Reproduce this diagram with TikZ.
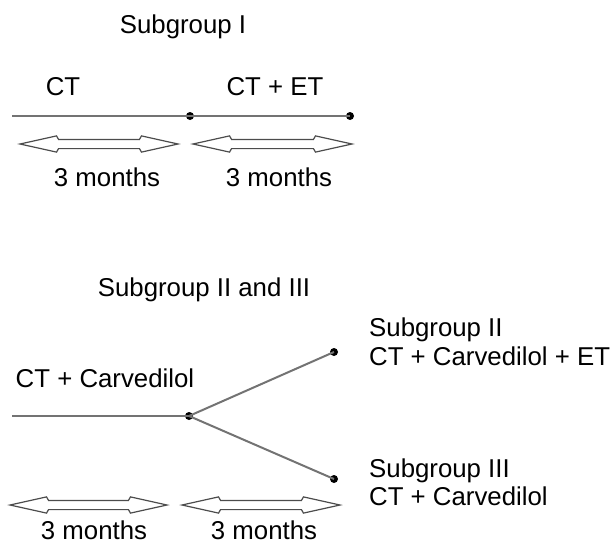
\documentclass[tikz,border=0pt]{standalone}
\usepackage{fontspec}
\setmainfont{Liberation Sans}
\usetikzlibrary{shapes.arrows}

\begin{document}
\begin{tikzpicture}[x=1pt,y=-1pt,
  txt/.style={anchor=base,inner sep=0pt,font=\fontsize{25.8pt}{30pt}\selectfont},
  timeline/.style={draw=black!55,line width=2.4pt},
  dot/.style={circle,fill=black,inner sep=0pt,minimum size=8pt},
  period/.style={double arrow,draw=black!70,fill=white,line width=1.2pt,
    inner sep=0pt,inner ysep=4pt,minimum width=15pt,
    double arrow head extend=3.5pt,double arrow tip angle=25,
    double arrow head indent=-2pt}]
\useasboundingbox (0,0) rectangle (613,546);
% subgroup I
\node[txt] (titleone) at (183,33) {Subgroup I};
\node[txt] (ct) at (63,95) {CT};
\node[txt] (ctet) at (275,95) {CT + ET};
\coordinate (onestart) at (12,116);
\node[dot] (onemid) at (190,116) {};
\node[dot] (oneend) at (350,116) {};
\draw[timeline] (onestart) -- (onemid.center) -- (oneend.center);
\node[period,minimum height=158pt] (oneper1) at (99,144) {};
\node[period,minimum height=159pt] (oneper2) at (272.5,144) {};
\node[txt] (onemon1) at (107,186) {3 months};
\node[txt] (onemon2) at (279,186) {3 months};
% subgroup II and III
\node[txt] (titletwo) at (204,296) {Subgroup II and III};
\node[txt] (ctcar) at (105,387) {CT + Carvedilol};
\coordinate (twostart) at (12,416);
\node[dot] (twomid) at (189,416) {};
\node[dot] (twoup) at (334,352) {};
\node[dot] (twodown) at (334,479) {};
\draw[timeline] (twostart) -- (twomid.center);
\draw[timeline,line width=2pt] (twomid.center) -- (twoup.center);
\draw[timeline,line width=2pt] (twomid.center) -- (twodown.center);
\node[txt,anchor=base west] (subtwo) at (369,336) {Subgroup II};
\node[txt,anchor=base west] (subtwotx) at (369,365) {CT + Carvedilol + ET};
\node[txt,anchor=base west] (subthree) at (369,477) {Subgroup III};
\node[txt,anchor=base west] (subthreetx) at (369,505) {CT + Carvedilol};
\node[period,minimum height=157pt] (twoper1) at (88.5,505) {};
\node[period,minimum height=158pt] (twoper2) at (261,505) {};
\node[txt] (twomon1) at (94,539) {3 months};
\node[txt] (twomon2) at (264,539) {3 months};
\end{tikzpicture}
\end{document}
